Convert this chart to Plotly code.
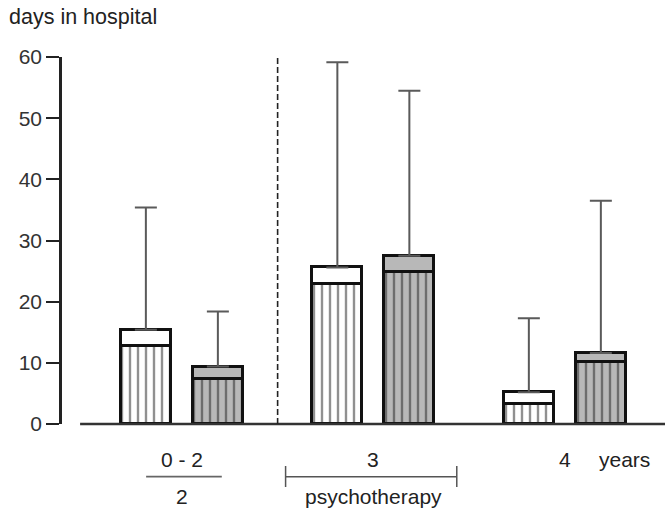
import plotly.graph_objects as go

# ---- data ----
groups = ["0 - 2", "3", "4"]
group_x = [0, 1, 2]
white_inner = [12.8, 22.9, 3.3]
white_top = [15.4, 25.6, 5.2]
white_cap = [35.4, 59.15, 17.3]
gray_inner = [7.35, 24.9, 10.2]
gray_top = [9.4, 27.5, 11.6]
gray_cap = [18.4, 54.5, 36.5]
y_ticks = [0, 10, 20, 30, 40, 50, 60]
sub_labels = ["2", "psychotherapy"]
unit_label = "years"

OFF = 0.188
W = 0.26
FONT = "Liberation Sans, Arial, sans-serif"
OUT = "#111111"
FS = 21

wx = [g - OFF for g in group_x]
gx = [g + OFF for g in group_x]

fig = go.Figure()

def add_bar(xs, inner, top, fill, hatch):
    # hatched lower part
    fig.add_trace(go.Bar(
        x=xs, y=inner, base=[0] * len(xs), width=W,
        marker=dict(color=fill, line=dict(color=OUT, width=3),
                    pattern=dict(shape="|", fgcolor=hatch, size=8,
                                 solidity=0.3, fillmode="overlay")),
        showlegend=False, hoverinfo="skip"))
    # solid upper part
    fig.add_trace(go.Bar(
        x=xs, y=[t - i for t, i in zip(top, inner)], base=inner, width=W,
        marker=dict(color=fill, line=dict(color=OUT, width=3)),
        showlegend=False, hoverinfo="skip"))

def add_err(xs, top, cap):
    fig.add_trace(go.Scatter(
        x=xs, y=top, mode="markers",
        marker=dict(size=1, opacity=0),
        error_y=dict(type="data", symmetric=False,
                     array=[c - t for c, t in zip(cap, top)],
                     arrayminus=[0] * len(xs),
                     color="#5a5a5a", thickness=2, width=11),
        showlegend=False, hoverinfo="skip", cliponaxis=False))

add_bar(wx, white_inner, white_top, "#ffffff", "#222222")
add_bar(gx, gray_inner, gray_top, "#b8b8b8", "#222222")
add_err(wx, white_top, white_cap)
add_err(gx, gray_top, gray_cap)

fig.update_layout(
    width=665, height=508,
    margin=dict(l=62, r=0, t=57, b=84),
    paper_bgcolor="white", plot_bgcolor="white",
    barmode="overlay", bargap=0,
    font=dict(family=FONT, color="#222222", size=FS),
    showlegend=False,
    xaxis=dict(range=[-0.626, 2.523], showline=False, showticklabels=False,
               ticks="", showgrid=False, zeroline=False, fixedrange=True),
    yaxis=dict(range=[0, 60], tickvals=y_ticks, showline=True,
               linecolor="#222222", linewidth=2.5, ticks="outside",
               ticklen=13, tickwidth=2, tickcolor="#222222",
               showgrid=False, zeroline=False,
               tickfont=dict(family=FONT, size=FS, color="#333333")),
)

# baseline
fig.add_shape(type="line", xref="paper", yref="paper", x0=0.03, x1=1.0,
              y0=0, y1=0, line=dict(color="#333333", width=2.5))
# dashed separator between first and second group
fig.add_shape(type="line", xref="x", yref="y", x0=0.5, x1=0.5, y0=0, y1=60,
              line=dict(color="#222222", width=1.6, dash="6px,3px"))

# title
fig.add_annotation(text="days in hospital", xref="paper", yref="paper",
                   x=-0.092, y=1.108, xanchor="left", yanchor="middle",
                   showarrow=False, font=dict(size=FS + 0.5, color="#222222"))

# group labels (at group centres)
for g, t in zip(group_x, groups):
    fig.add_annotation(text=t, xref="x", yref="paper", x=g, y=-0.098,
                       xanchor="center", yanchor="middle", showarrow=False,
                       font=dict(size=FS, color="#222222"))
for g, t in zip(group_x[:2], sub_labels):
    fig.add_annotation(text=t, xref="x", yref="paper", x=g, y=-0.198,
                       xanchor="center", yanchor="middle", showarrow=False,
                       font=dict(size=FS, color="#222222"))
fig.add_annotation(text=unit_label, xref="x", yref="paper", x=2.314, y=-0.098,
                   xanchor="center", yanchor="middle", showarrow=False,
                   font=dict(size=FS, color="#222222"))

# fraction line under "0 - 2"
fig.add_shape(type="line", xref="paper", yref="paper", x0=0.1395, x1=0.265,
              y0=-0.1436, y1=-0.1436, line=dict(color="#666666", width=1.8))
# bracket for psychotherapy
fig.add_shape(type="line", xref="paper", yref="paper", x0=0.3708, x1=0.6547,
              y0=-0.1436, y1=-0.1436, line=dict(color="#555555", width=1.5))
for xb in (0.3708, 0.6547):
    fig.add_shape(type="line", xref="paper", yref="paper", x0=xb, x1=xb,
                  y0=-0.1144, y1=-0.1717, line=dict(color="#555555", width=1.5))

fig.write_html("out.html", config={"displayModeBar": False},
               post_script="document.body.style.margin='0px';")
